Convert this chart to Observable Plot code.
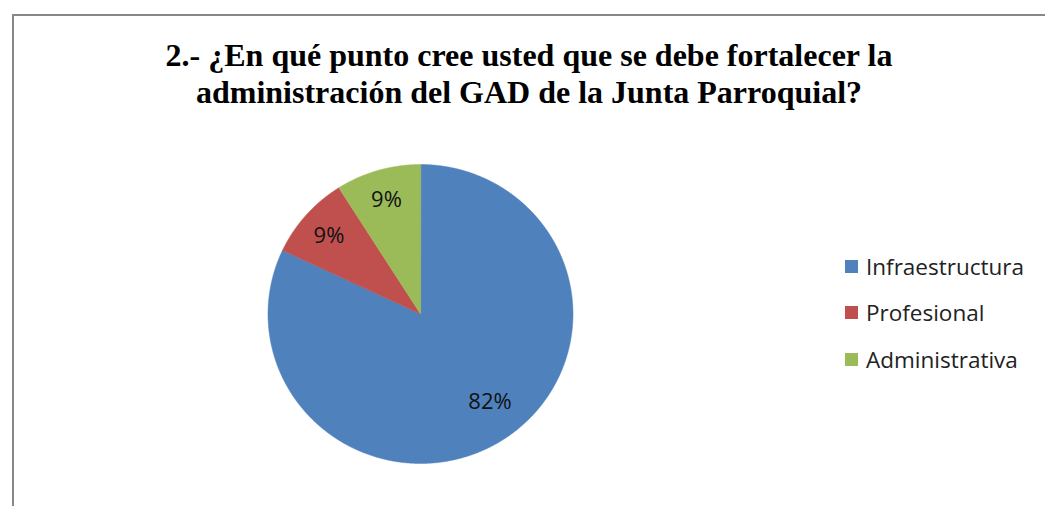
<!DOCTYPE html>
<html>
<head>
<meta charset="utf-8">
<script src="https://cdn.jsdelivr.net/npm/d3@7"></script>
<script src="https://cdn.jsdelivr.net/npm/@observablehq/plot@0.6"></script>
<style>
  html, body { margin: 0; padding: 0; background: #fff; }
  #wrap { position: relative; width: 1045px; height: 506px; overflow: hidden; }
  #frame { position: absolute; left: 12px; top: 14px; width: 1100px; height: 600px;
           border-left: 2px solid #888; border-top: 2px solid #888; box-sizing: border-box; }
  #title { position: absolute; left: 0; width: 1058px; top: 37px; text-align: center;
           font-family: "Liberation Serif", serif; font-weight: bold; font-size: 32px;
           line-height: 37px; color: #000; }
  #chart { position: absolute; left: 0; top: 0; }
  #legend { position: absolute; left: 845px; top: 243px; font-family: "Open Sans", sans-serif;
            font-size: 22.5px; color: #222; }
  .row { display: flex; align-items: center; height: 46.5px; }
  .sw { width: 13px; height: 13px; margin-right: 8px; }
</style>
</head>
<body>
<div id="wrap">
  <div id="frame"></div>
  <div id="chart"></div>
  <div id="title">2.- ¿En qué punto cree usted que se debe fortalecer la<br>administración del GAD de la Junta Parroquial?</div>
  <div id="legend"></div>
</div>
<script>
const categories = ["Infraestructura", "Profesional", "Administrativa"];
const values = [82, 9, 9];
const labels = ["82%", "9%", "9%"];
const colors = ["#4F81BD", "#C0504D", "#9BBB59"];

const data = categories.map((c, i) => ({cat: c, value: values[i], label: labels[i]}));
const arcs = d3.pie().sort(null).value(d => d.value)(data);

const marks = arcs.map((s, i) => {
  const n = Math.max(2, Math.ceil((s.endAngle - s.startAngle) / 0.005));
  const pts = [{x: 0, y: 0}];
  for (let k = 0; k <= n; k++) {
    const a = s.startAngle + (s.endAngle - s.startAngle) * k / n;
    pts.push({x: Math.sin(a), y: Math.cos(a)});
  }
  return Plot.line(pts, {x: "x", y: "y", fill: colors[i], stroke: colors[i], strokeWidth: 0.5, curve: "linear-closed"});
});

const labelPts = arcs.map((s, i) => {
  const a = (s.startAngle + s.endAngle) / 2;
  const r = i === 0 ? 0.74 : 0.8;
  return {x: r * Math.sin(a), y: r * Math.cos(a), label: s.data.label, big: i === 0};
});

const textOpts = {x: "x", y: "y", text: "label", fontSize: 22, fill: "#111",
  fontFamily: "Open Sans, sans-serif"};

const chart = Plot.plot({
  width: 1045,
  height: 506,
  margin: 0,
  x: {domain: [-1, 1], range: [267.5, 572.5], axis: null},
  y: {domain: [-1, 1], range: [463, 164], axis: null},
  style: {background: "transparent"},
  marks: [
    ...marks,
    Plot.text(labelPts.filter(d => d.big), {...textOpts, dx: 9, dy: -5}),
    Plot.text(labelPts.filter(d => !d.big), {...textOpts, dy: 1})
  ]
});
document.getElementById("chart").appendChild(chart);

const legend = document.getElementById("legend");
categories.forEach((c, i) => {
  const row = document.createElement("div");
  row.className = "row";
  const sw = document.createElement("div");
  sw.className = "sw";
  sw.style.background = colors[i];
  const t = document.createElement("span");
  t.textContent = c;
  row.appendChild(sw);
  row.appendChild(t);
  legend.appendChild(row);
});
</script>
</body>
</html>
